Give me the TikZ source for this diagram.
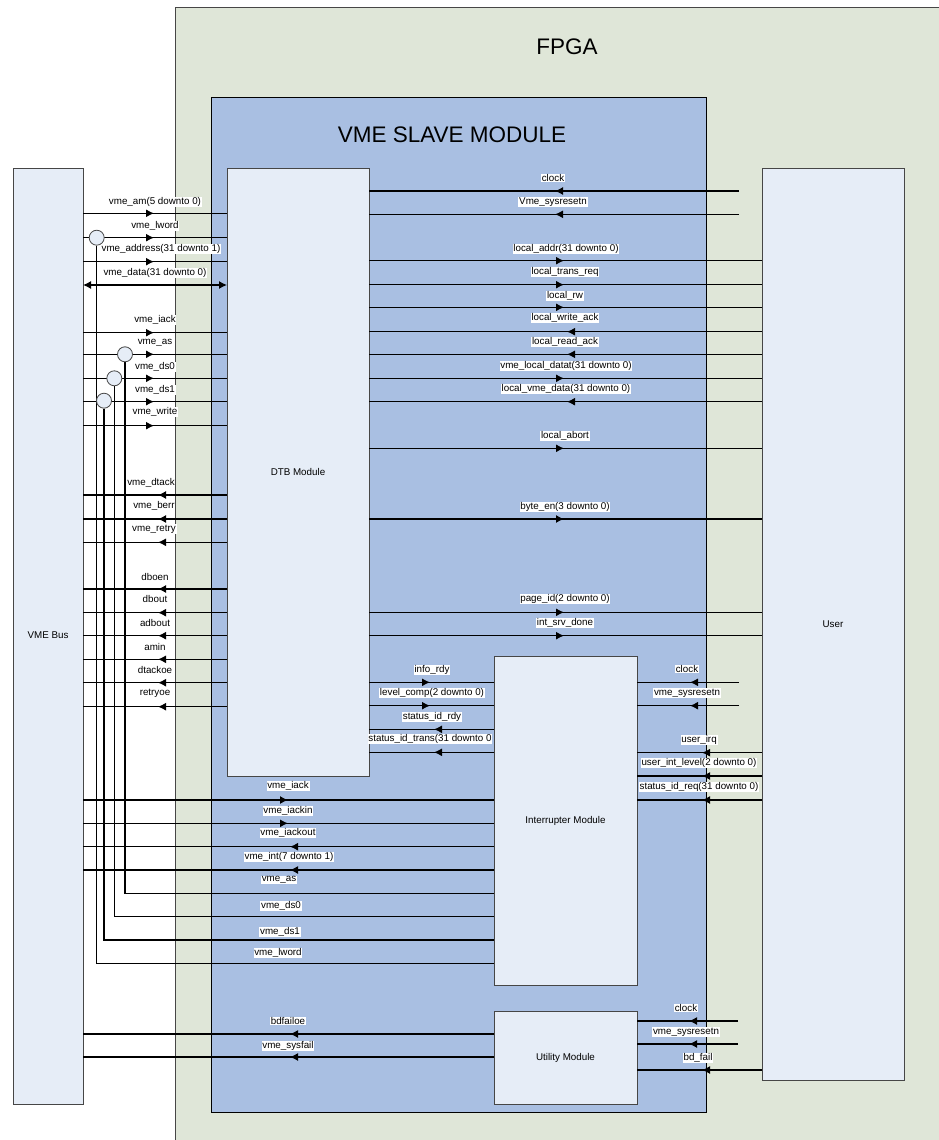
\documentclass[tikz,border=0pt]{standalone}
\usepackage{fontspec}
\setmainfont{Liberation Sans}
\usetikzlibrary{arrows.meta,decorations.markings}
\definecolor{fpgabg}{RGB}{223,230,216}
\definecolor{slavebg}{RGB}{169,191,226}
\definecolor{boxbg}{RGB}{230,237,247}
\definecolor{edgec}{RGB}{70,70,70}
\pgfdeclarelayer{back}
\pgfdeclarelayer{mid}
\pgfsetlayers{back,mid,main}
\newcommand\lblfont{\fontsize{9.8}{10}\selectfont}
\newcommand\hw[4]{\draw[sig,marr=#1pt] (#2 |- 0,#4) -- (#3 |- 0,#4);}
\newcommand\lb[4]{\node[lbl] (#1) at (#2,#3) {#4};}
\begin{document}
\begin{tikzpicture}[x=1pt,y=-1pt,
  container/.style={draw=edgec, line width=0.9pt, anchor=north west, inner sep=0pt, outer sep=0pt},
  modbox/.style={draw=edgec, line width=0.9pt, fill=boxbg, inner sep=0pt, outer sep=0pt, anchor=north west, font=\lblfont},
  sig/.style={line width=1.25pt, draw=black},
  tipx/.tip={Latex[length=8pt,width=8pt]},
  marr/.style={postaction={decorate,decoration={markings,mark=at position #1 with {\arrow{tipx}}}}},
  lbl/.style={fill=white, inner sep=0.8pt, font=\lblfont},
  tap/.style={circle, draw=edgec, fill=boxbg, line width=0.8pt, minimum size=15pt, inner sep=0pt},
  title/.style={font=\fontsize{22.5}{26}\selectfont},
]
\useasboundingbox (0,0) rectangle (938,1140);
\clip (0,0) rectangle (938,1140);

\begin{pgfonlayer}{back}
\fill[white] (0,0) rectangle (938,1140);
% containers
\node[container, fill=fpgabg, minimum width=790pt, minimum height=1160pt] (fpga) at (175,7) {};
\node[title] (fpgat) at (567,47) {FPGA};
\node[container, draw=black, fill=slavebg, minimum width=495pt, minimum height=1015pt] (slave) at (211,97) {};
\node[title] (slavet) at (452,135) {VME SLAVE MODULE};
% modules
\node[modbox, minimum width=70pt, minimum height=936pt] (bus) at (13,168) {};
\node[font=\lblfont] (buslbl) at (48,635) {VME Bus};
\node[modbox, minimum width=142pt, minimum height=608pt] (dtb) at (227,168) {DTB Module};
\node[modbox, minimum width=142pt, minimum height=912pt] (user) at (762,168) {User};
\node[modbox, minimum width=143pt, minimum height=329pt] (intr) at (494,656) {Interrupter Module};
\node[modbox, minimum width=143pt, minimum height=93pt] (util) at (494,1011) {Utility Module};
\end{pgfonlayer}

% taps
\node[tap] (clw) at (96.7,237.7) {};
\node[tap] (cas) at (125,354.3) {};
\node[tap] (cds0) at (114.3,378.3) {};
\node[tap] (cds1) at (104,400.7) {};

% free ends
\coordinate (dclk) at (739,191);
\coordinate (drst) at (739,214.3);
\coordinate (iclk) at (739,682.3);
\coordinate (irst) at (739,705.7);
\coordinate (uclk) at (738,1021);
\coordinate (urst) at (738,1044);

\begin{pgfonlayer}{mid}
% VME bus -> DTB
\hw{71}{bus.east}{dtb.west}{213.3}
\hw{71}{bus.east}{dtb.west}{237.7}
\hw{71}{bus.east}{dtb.west}{261.7}
\draw[sig,tipx-tipx] (bus.east |- 0,285) -- (dtb.west |- 0,285);
\hw{71}{bus.east}{dtb.west}{332.7}
\hw{71}{bus.east}{dtb.west}{354.3}
\hw{71}{bus.east}{dtb.west}{378.3}
\hw{71}{bus.east}{dtb.west}{401.7}
\hw{71}{bus.east}{dtb.west}{425.7}
% DTB -> VME bus
\hw{69}{dtb.west}{bus.east}{495}
\hw{69}{dtb.west}{bus.east}{519}
\hw{69}{dtb.west}{bus.east}{542.3}
\hw{69}{dtb.west}{bus.east}{589}
\hw{69}{dtb.west}{bus.east}{612.7}
\hw{69}{dtb.west}{bus.east}{635.7}
\hw{69}{dtb.west}{bus.east}{659.3}
\hw{69}{dtb.west}{bus.east}{682.7}
\hw{69}{dtb.west}{bus.east}{706.7}
% VME bus <-> interrupter
\hw{205}{bus.east}{intr.west}{800}
\hw{205}{bus.east}{intr.west}{823.3}
\hw{204}{intr.west}{bus.east}{846.7}
\hw{204}{intr.west}{bus.east}{870}
\draw[sig] (cas.south) |- (intr.west |- 0,893.3);
\draw[sig] (cds0.south) |- (intr.west |- 0,916.7);
\draw[sig] (cds1.south) |- (intr.west |- 0,940);
\draw[sig] (clw.south) |- (intr.west |- 0,963.3);
% DTB <-> user
\hw{184}{dclk}{dtb.east}{191}
\hw{184}{drst}{dtb.east}{214.3}
\hw{195}{dtb.east}{user.west}{260.7}
\hw{195}{dtb.east}{user.west}{284.7}
\hw{195}{dtb.east}{user.west}{307.3}
\hw{195}{user.west}{dtb.east}{331.7}
\hw{195}{user.west}{dtb.east}{354.3}
\hw{195}{dtb.east}{user.west}{378.3}
\hw{195}{user.west}{dtb.east}{401.7}
\hw{195}{dtb.east}{user.west}{448.3}
\hw{195}{dtb.east}{user.west}{519}
\hw{195}{dtb.east}{user.west}{612.3}
\hw{195}{dtb.east}{user.west}{635.7}
% DTB <-> interrupter
\hw{61}{dtb.east}{intr.west}{682.3}
\hw{61}{dtb.east}{intr.west}{705.7}
\hw{60}{intr.west}{dtb.east}{729.3}
\hw{60}{intr.west}{dtb.east}{752.3}
% interrupter <-> user
\hw{49}{iclk}{intr.east}{682.3}
\hw{49}{irst}{intr.east}{705.7}
\hw{60}{user.west}{intr.east}{752.7}
\hw{60}{user.west}{intr.east}{776}
\hw{60}{user.west}{intr.east}{800}
% utility
\hw{49}{uclk}{util.east}{1021}
\hw{49}{urst}{util.east}{1044}
\hw{60}{user.west}{util.east}{1070}
\hw{204}{util.west}{bus.east}{1034}
\hw{204}{util.west}{bus.east}{1057}
\end{pgfonlayer}

% labels
\lb{l1}{155}{202}{vme\_am(5 downto 0)}
\lb{l2}{155}{226}{vme\_lword}
\lb{l3}{161}{249}{vme\_address(31 downto 1)}
\lb{l4}{155}{273}{vme\_data(31 downto 0)}
\lb{l5}{155}{320}{vme\_iack}
\lb{l6}{155}{343}{vme\_as}
\lb{l7}{155}{367}{vme\_ds0}
\lb{l8}{155}{390}{vme\_ds1}
\lb{l9}{155}{412}{vme\_write}
\lb{l10}{151}{483}{vme\_dtack}
\lb{l11}{154}{506}{vme\_berr}
\lb{l12}{154}{529}{vme\_retry}
\lb{l13}{155}{577}{dboen}
\lb{l14}{155}{599}{dbout}
\lb{l15}{155}{623}{adbout}
\lb{l16}{155}{647}{amin}
\lb{l17}{155}{670}{dtackoe}
\lb{l18}{155}{693}{retryoe}
\lb{l19}{288}{786}{vme\_iack}
\lb{l20}{288}{811}{vme\_iackin}
\lb{l21}{288}{833}{vme\_iackout}
\lb{l22}{289}{857}{vme\_int(7 downto 1)}
\lb{l23}{279}{880}{vme\_as}
\lb{l24}{281}{906}{vme\_ds0}
\lb{l25}{280}{932}{vme\_ds1}
\lb{l26}{278}{953}{vme\_lword}
\lb{r1}{553}{178}{clock}
\lb{r2}{553}{202}{Vme\_sysresetn}
\lb{r3}{566}{249}{local\_addr(31 downto 0)}
\lb{r4}{565}{272}{local\_trans\_req}
\lb{r5}{565}{296}{local\_rw}
\lb{r6}{565}{318}{local\_write\_ack}
\lb{r7}{565}{342}{local\_read\_ack}
\lb{r8}{566}{366}{vme\_local\_datat(31 downto 0)}
\lb{r9}{566}{389}{local\_vme\_data(31 downto 0)}
\lb{r10}{565}{436}{local\_abort}
\lb{r11}{565}{507}{byte\_en(3 downto 0)}
\lb{r12}{565}{599}{page\_id(2 downto 0)}
\lb{r13}{565}{623}{int\_srv\_done}
\lb{m1}{432}{670}{info\_rdy}
\lb{m2}{432}{693}{level\_comp(2 downto 0)}
\lb{m3}{432}{717}{status\_id\_rdy}
\lb{m4}{430}{739}{status\_id\_trans(31 downto 0}
\lb{i1}{687}{669}{clock}
\lb{i2}{687}{693}{vme\_sysresetn}
\lb{i3}{699}{740}{user\_irq}
\lb{i4}{699}{763}{user\_int\_level(2 downto 0)}
\lb{i5}{699}{787}{status\_id\_req(31 downto 0)}
\lb{u1}{686}{1008}{clock}
\lb{u2}{686}{1032}{vme\_sysresetn}
\lb{u3}{698}{1058}{bd\_fail}
\lb{u4}{288}{1021}{bdfailoe}
\lb{u5}{288}{1046}{vme\_sysfail}
\end{tikzpicture}
\end{document}
